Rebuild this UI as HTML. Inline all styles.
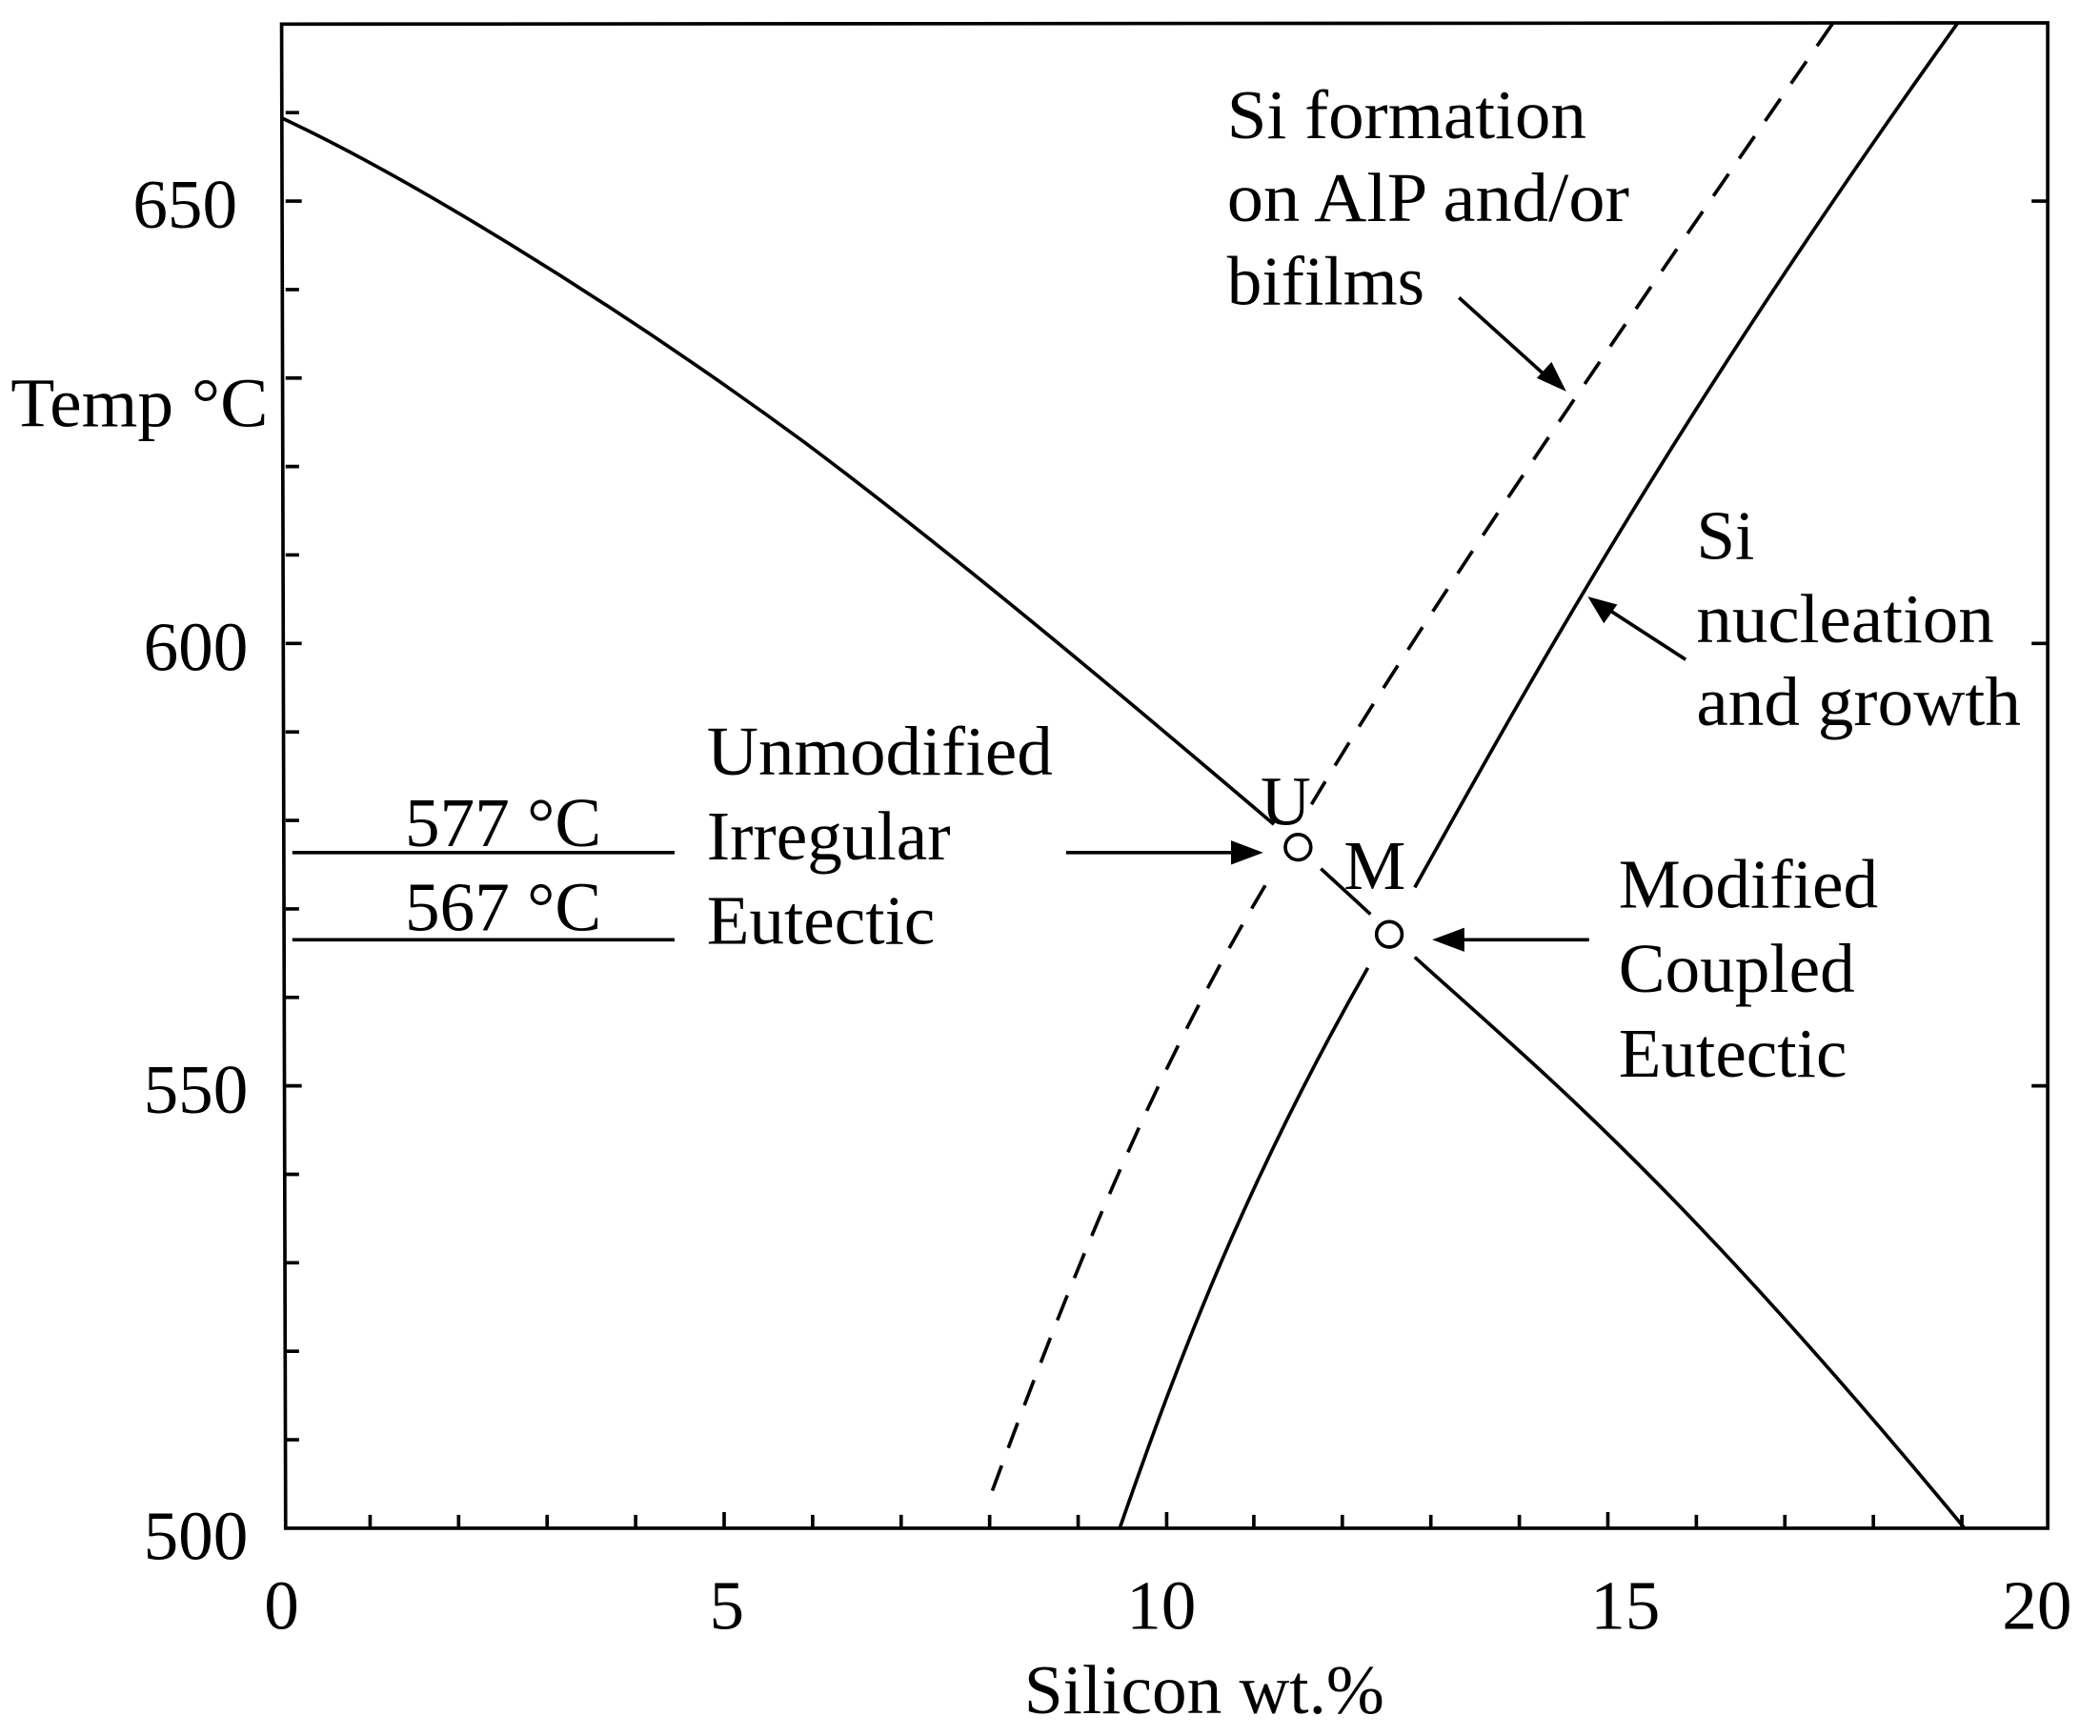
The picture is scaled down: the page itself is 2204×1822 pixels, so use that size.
<!DOCTYPE html>
<html><head><meta charset="utf-8"><style>html,body{margin:0;padding:0;background:#fff}svg{display:block}</style></head>
<body>
<svg width="2204" height="1822" viewBox="0 0 1566 1295" preserveAspectRatio="none" xmlns="http://www.w3.org/2000/svg" font-family="'Liberation Serif', serif" fill="#000">
<g stroke="#000" fill="none" stroke-width="2.6">
<path d="M210,18 L1527,17 L1527,1140 L213,1140 Z"/>
<path d="M213,150h12M213,216h10M213,282h12M213,348h10M213,414h10M213,480h12M213,546h10M213,612h10M213,678h10M213,744h10M213,810h12M213,876h10M213,942h10M213,1008h10M213,1074h10M213,84h10"/>
<path d="M1527,150h-12M1527,480h-12M1527,810h-12"/>
<path d="M276,1140v-10M342,1140v-10M408,1140v-10M474,1140v-10M540,1140v-12M606,1140v-10M672,1140v-10M738,1140v-10M804,1140v-10M870,1140v-12M935,1140v-10M1001,1140v-10M1067,1140v-10M1133,1140v-10M1199,1140v-12M1265,1140v-10M1331,1140v-10M1397,1140v-10M1463,1140v-10"/>
<path d="M210,88 C300,130 450,220 600,330 C720,420 850,530 950,615"/>
<path d="M985,648 L1022,682"/>
<path d="M1055,714 C1150,800 1250,880 1465,1140"/>
<path d="M835,1140 C880,1010 930,880 1020,722"/>
<path d="M1055,662 C1140,510 1250,310 1460,17"/>
<path d="M740,1112 C800,950 860,800 945,658" stroke-dasharray="20,14"/>
<path d="M978,600 C1050,480 1150,330 1367,17" stroke-dasharray="20,14"/>
<path d="M218,636 H503 M218,701 H503"/>
<circle cx="968" cy="632" r="9.5"/>
<circle cx="1036" cy="697" r="9.5"/>
<path d="M795,636 H920"/>
<path d="M1185,701 H1090"/>
<path d="M1088,222 L1150,278"/>
<path d="M1257,492 L1200,455"/>
</g>
<g stroke="none">
<polygon points="942,636 918,627 918,645"/>
<polygon points="1068,701 1092,692 1092,710"/>
<polygon points="1168,292 1146,282 1157,270"/>
<polygon points="1184,445 1196,465 1206,451"/>
</g>
<g font-size="52">
<text x="138" y="170" text-anchor="middle">650</text>
<text x="146" y="500" text-anchor="middle">600</text>
<text x="146" y="830" text-anchor="middle">550</text>
<text x="146" y="1163" text-anchor="middle">500</text>
<text x="210" y="1215" text-anchor="middle">0</text>
<text x="542" y="1215" text-anchor="middle">5</text>
<text x="866" y="1215" text-anchor="middle">10</text>
<text x="1212" y="1215" text-anchor="middle">15</text>
<text x="1519" y="1215" text-anchor="middle">20</text>
<text x="898" y="1278" text-anchor="middle">Silicon wt.%</text>
<text x="8" y="318" textLength="192" lengthAdjust="spacingAndGlyphs">Temp °C</text>
<text x="915" y="103" textLength="268" lengthAdjust="spacingAndGlyphs">Si formation</text>
<text x="915" y="165" textLength="300" lengthAdjust="spacingAndGlyphs">on AlP and/or</text>
<text x="915" y="227">bifilms</text>
<text x="1265" y="417">Si</text>
<text x="1265" y="479" textLength="222" lengthAdjust="spacingAndGlyphs">nucleation</text>
<text x="1265" y="541" textLength="242" lengthAdjust="spacingAndGlyphs">and growth</text>
<text x="527" y="578" textLength="258" lengthAdjust="spacingAndGlyphs">Unmodified</text>
<text x="527" y="641">Irregular</text>
<text x="527" y="704">Eutectic</text>
<text x="1207" y="677">Modified</text>
<text x="1207" y="740">Coupled</text>
<text x="1207" y="803">Eutectic</text>
<text x="302" y="631">577 °C</text>
<text x="302" y="694">567 °C</text>
<text x="940" y="615">U</text>
<text x="1002" y="663">M</text>
</g>
</svg>
</body></html>
